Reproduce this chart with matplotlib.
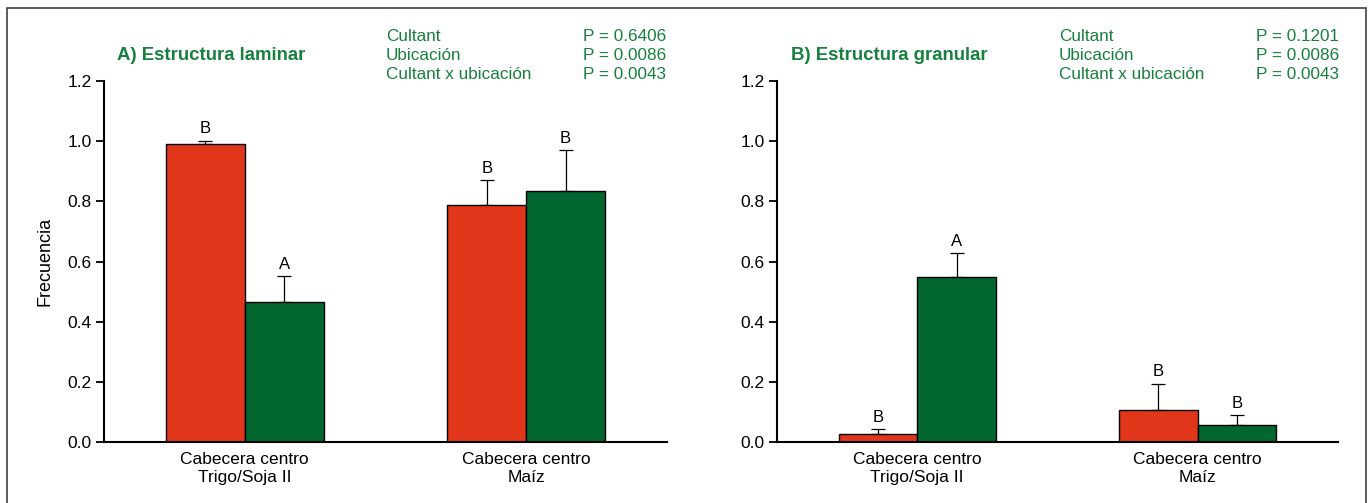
import numpy as np
import matplotlib
matplotlib.use("Agg")
import matplotlib.pyplot as plt
from matplotlib.patches import Rectangle

plt.rcParams['font.family'] = ['Liberation Sans', 'DejaVu Sans']

# Sites on the x axis and the two treatments per site (red / green bars)
categories = ["Cabecera centro\nTrigo/Soja II", "Cabecera centro\nMaíz"]

# A) laminar structure
laminar_red = [0.99, 0.788]
laminar_red_err = [0.012, 0.082]
laminar_green = [0.466, 0.833]
laminar_green_err = [0.086, 0.136]
laminar_red_letters = ["B", "B"]
laminar_green_letters = ["A", "B"]
laminar_stats = [("Cultant", "P = 0.6406"),
                 ("Ubicación", "P = 0.0086"),
                 ("Cultant x ubicación", "P = 0.0043")]

# B) granular structure
granular_red = [0.025, 0.105]
granular_red_err = [0.018, 0.089]
granular_green = [0.547, 0.057]
granular_green_err = [0.082, 0.032]
granular_red_letters = ["B", "B"]
granular_green_letters = ["A", "B"]
granular_stats = [("Cultant", "P = 0.1201"),
                  ("Ubicación", "P = 0.0086"),
                  ("Cultant x ubicación", "P = 0.0043")]

RED = "#e2361a"
GREEN = "#02672f"
TEXT_GREEN = "#17803f"

W, H = 1370, 503
fig = plt.figure(figsize=(W / 100, H / 100), dpi=100)

# outer frame around the whole figure
fig.patches.append(Rectangle((7 / W, -0.05), (1366 - 7) / W, 1.05 - 8 / H,
                             transform=fig.transFigure, fill=False,
                             edgecolor="#404040", linewidth=1.2))


def draw_panel(ax, red, red_err, green, green_err, red_let, green_let):
    x = np.arange(len(categories))
    width = 0.28
    for vals, errs, lets, off, col in [(red, red_err, red_let, -width / 2, RED),
                                       (green, green_err, green_let, width / 2, GREEN)]:
        ax.bar(x + off, vals, width, color=col, edgecolor="black", linewidth=1.0, zorder=2)
        ax.errorbar(x + off, vals, yerr=[np.zeros(len(vals)), errs], fmt="none",
                    ecolor="black", elinewidth=0.9, capsize=5, capthick=0.9, zorder=1)
        for xi, v, e, l in zip(x + off, vals, errs, lets):
            ax.annotate(l, (xi, v + e), xytext=(0, 3), textcoords="offset points",
                        ha="center", va="bottom", fontsize=12)
    ax.set_xlim(-0.5, 1.5)
    ax.set_ylim(0, 1.2)
    ax.set_yticks(np.arange(0, 1.21, 0.2))
    ax.set_yticklabels([f"{v:.1f}" for v in np.arange(0, 1.21, 0.2)])
    ax.set_xticks(x)
    ax.set_xticklabels(categories, fontsize=12.5, linespacing=1.3)
    ax.tick_params(axis="x", length=0, pad=7)
    ax.tick_params(axis="y", direction="out", length=6, width=1.3, labelsize=12.5, pad=3)
    for s in ["top", "right"]:
        ax.spines[s].set_visible(False)
    for s in ["left", "bottom"]:
        ax.spines[s].set_linewidth(1.5)


bottom = (H - 442) / H
height = (442 - 81) / H

ax1 = fig.add_axes([104 / W, bottom, 563 / W, height])
draw_panel(ax1, laminar_red, laminar_red_err, laminar_green, laminar_green_err,
           laminar_red_letters, laminar_green_letters)
ax1.set_ylabel("Frecuencia", fontsize=13, labelpad=10)

ax2 = fig.add_axes([777 / W, bottom, 561 / W, height])
draw_panel(ax2, granular_red, granular_red_err, granular_green, granular_green_err,
           granular_red_letters, granular_green_letters)


def header(title, title_x, label_x, value_x, stats):
    fig.text(title_x / W, 1 - 55 / H, title, fontsize=13.4, fontweight="bold",
             color=TEXT_GREEN, va="center", ha="left")
    for i, (lab, val) in enumerate(stats):
        y = 1 - (37 + 18.7 * i) / H
        fig.text(label_x / W, y, lab, fontsize=12.3, color=TEXT_GREEN, va="center", ha="left")
        fig.text(value_x / W, y, val, fontsize=12.3, color=TEXT_GREEN, va="center", ha="left")


header("A) Estructura laminar", 117, 386, 583, laminar_stats)
header("B) Estructura granular", 791, 1059, 1256, granular_stats)

fig.savefig("out.png", dpi=100)
